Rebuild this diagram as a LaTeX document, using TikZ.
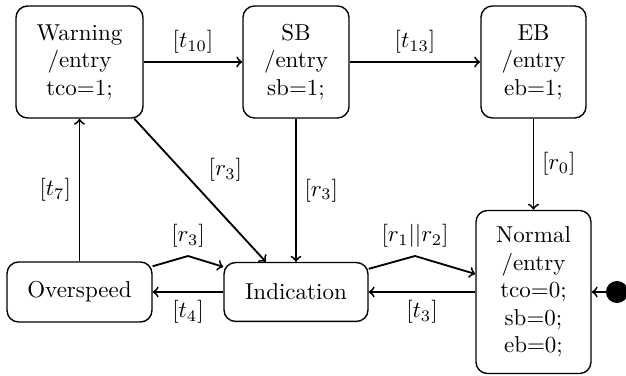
\documentclass[tikz,border=0pt]{standalone}
\usetikzlibrary{calc}
\begin{document}
\begin{tikzpicture}[x=0.4348pt,y=-0.4348pt,
  state/.style={draw, rounded corners=5pt, line width=0.6pt, align=center, inner sep=2pt},
  conn/.style={->, line width=0.8pt},
  lbl/.style={inner sep=3.33pt}]
\useasboundingbox (0,0) rectangle (626,376);
% states
\node[state, minimum width=55.2pt, minimum height=48.7pt] (warning) at (79.5,62) {Warning\\/entry\\tco=1;};
\node[state, minimum width=46.1pt, minimum height=48.7pt] (sb) at (296,62) {SB\\/entry\\sb=1;};
\node[state, minimum width=45.7pt, minimum height=48.7pt] (eb) at (533.5,62) {EB\\/entry\\eb=1;};
\node[state, minimum width=63pt, minimum height=26.1pt] (overspeed) at (79.5,292) {Overspeed};
\node[state, minimum width=62.6pt, minimum height=25.6pt] (indication) at (296,292) {Indication};
\node[state, minimum width=50pt, minimum height=70.9pt] (normal) at (533.5,292) {Normal\\/entry\\tco=0;\\sb=0;\\eb=0;};
\node[circle, fill=black, minimum size=9.6pt, inner sep=0pt] (init) at (617,292) {};
% helper points
\coordinate (p1) at (188,256);
\coordinate (p2) at (415,256);
% connectors
\draw[conn] (warning.east) -- node[lbl, above] (l10) {$[t_{10}]$} (sb.west);
\draw[conn] (sb.east) -- node[lbl, above] (l13) {$[t_{13}]$} (eb.west);
\draw[conn] (eb.south) -- node[lbl, right] (l0) {$[r_0]$} (normal.north);
\draw[conn] (sb.south) -- node[lbl, right] (l3a) {$[r_3]$} (indication.north);
\draw[conn] (warning.-46) -- node[lbl, above right] (l3b) {$[r_3]$} (indication.135);
\draw[conn] (overspeed.north) -- node[lbl, left] (l7) {$[t_7]$} (warning.south);
\draw[conn] ($(overspeed.north east)+(0,5)$) -- (p1) node[lbl, above] (l3c) {$[r_3]$} -- ($(indication.north west)+(0,5)$);
\draw[conn] (indication.west) -- node[lbl, below] (l4) {$[t_4]$} (overspeed.east);
\draw[conn] ($(indication.north east)+(0,7)$) -- (p2) node[lbl, above] (l12) {$[r_1||r_2]$} -- ($(normal.west)+(0,-18)$);
\draw[conn] (normal.west) -- node[lbl, below] (l3d) {$[t_3]$} (indication.east);
\draw[conn] (init) -- (normal.east);
\end{tikzpicture}
\end{document}
